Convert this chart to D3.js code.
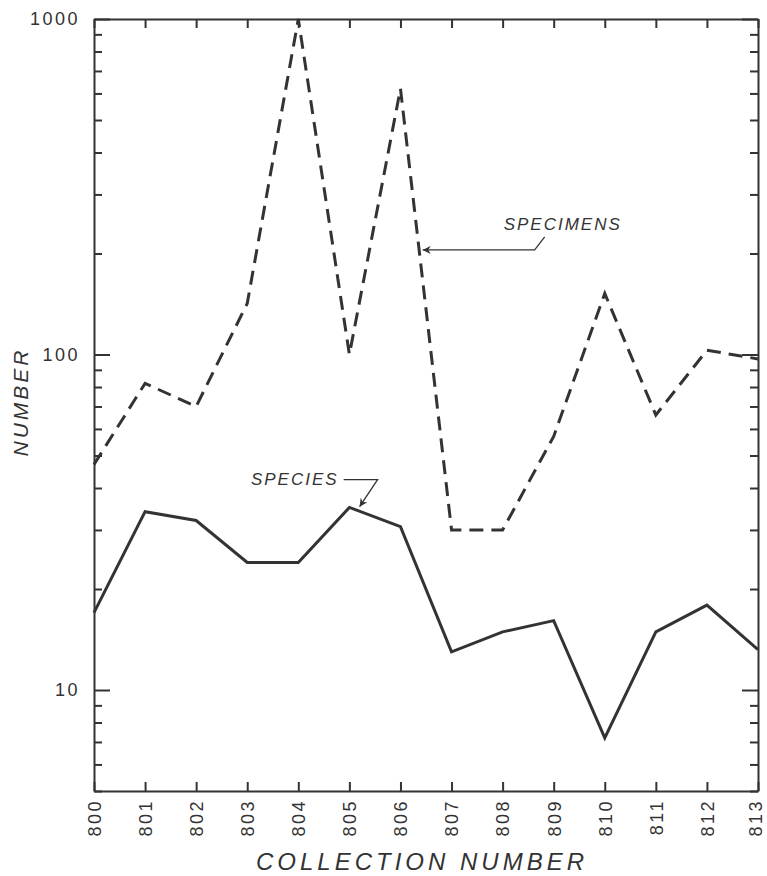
<!DOCTYPE html>
<html>
<head>
<meta charset="utf-8">
<script src="https://cdn.jsdelivr.net/npm/d3@7"></script>
<style>
  body { margin: 0; background: #fff; }
  svg { font-family: "Liberation Sans", Arial, sans-serif; }
  .axis text { font-size: 18px; fill: #333; letter-spacing: 2.5px; }
  .axis path, .axis line { stroke: #333; stroke-width: 2; }
  .title { font-style: italic; fill: #333; }
</style>
</head>
<body>
<div class="chart"></div>
<script>
// collection numbers on the x axis
const collections = [800, 801, 802, 803, 804, 805, 806, 807, 808, 809, 810, 811, 812, 813];
// counts per collection
const specimens = [47, 82, 70, 142, 1000, 100, 620, 30, 30, 57, 152, 66, 103, 97];
const species = [17, 34, 32, 24, 24, 35, 30.7, 13, 14.9, 16.1, 7.2, 14.9, 17.9, 13.2];
// tick values for the log axis
const yTicks = [5, 6, 7, 8, 9, 10, 20, 30, 40, 50, 60, 70, 80, 90, 100, 200, 300, 400, 500, 600, 700, 800, 900, 1000];
const yLabels = [10, 100, 1000];

const width = 767;
const height = 876;
const margin = {top: 19, right: 9, bottom: 85, left: 94};

const svg = d3.select('.chart')
    .append('svg')
    .attr('width', width)
    .attr('height', height);

const x = d3.scaleLinear().domain([800, 813]).range([margin.left, width - margin.right]);
const y = d3.scaleLog().domain([5, 1000]).range([height - margin.bottom, margin.top]);

const isMajor = v => yLabels.includes(v);

// left axis, ticks pointing inward
const left = svg.append('g')
    .attr('class', 'axis')
    .attr('transform', `translate(${margin.left},0)`)
    .call(d3.axisLeft(y).tickValues(yTicks).tickSizeOuter(0).tickPadding(8)
        .tickFormat(d => isMajor(d) ? d : ''));
left.selectAll('.tick line').attr('x2', d => isMajor(d) ? 16 : 8);

// right axis, mirror
const right = svg.append('g')
    .attr('class', 'axis')
    .attr('transform', `translate(${width - margin.right},0)`)
    .call(d3.axisRight(y).tickValues(yTicks).tickSizeOuter(0).tickFormat(''));
right.selectAll('.tick line').attr('x2', d => isMajor(d) ? -16 : -8);

// bottom axis with rotated labels
const bottom = svg.append('g')
    .attr('class', 'axis')
    .attr('transform', `translate(0,${height - margin.bottom})`)
    .call(d3.axisBottom(x).tickValues(collections).tickSizeInner(-9).tickSizeOuter(0)
        .tickFormat(d3.format('d')));
bottom.selectAll('.tick text')
    .attr('y', 0)
    .attr('x', -8)
    .attr('dy', '0.35em')
    .attr('transform', 'rotate(-90)')
    .style('text-anchor', 'end');
// last label sits against the page edge, nudge it in a touch
bottom.selectAll('.tick text').filter(d => d === 813).attr('dy', '0.2em');

// top axis, ticks only
svg.append('g')
    .attr('class', 'axis')
    .attr('transform', `translate(0,${margin.top})`)
    .call(d3.axisTop(x).tickValues(collections).tickSizeInner(-9).tickSizeOuter(0).tickFormat(''));

const line = d3.line()
    .x((d, i) => x(collections[i]))
    .y(d => y(d));

svg.append('path')
    .datum(specimens)
    .attr('fill', 'none')
    .attr('stroke', '#333')
    .attr('stroke-width', 3)
    .attr('stroke-dasharray', '14,8')
    .attr('d', line);

svg.append('path')
    .datum(species)
    .attr('fill', 'none')
    .attr('stroke', '#333')
    .attr('stroke-width', 3)
    .attr('d', line);

// arrow marker for the labels
svg.append('defs').append('marker')
    .attr('id', 'arrow')
    .attr('viewBox', '0 0 10 10')
    .attr('refX', 0)
    .attr('refY', 5)
    .attr('markerWidth', 13)
    .attr('markerHeight', 8)
    .attr('markerUnits', 'userSpaceOnUse')
    .attr('orient', 'auto')
    .append('path')
    .attr('d', 'M0,5 L10,0 L7,5 L10,10 Z')
    .attr('fill', '#333');

// labels: anchor point in data units, leader bends as offsets
const notes = [
    {text: 'SPECIMENS', at: [806.435, 205], leader: [[0, 0], [112, 0], [122, -13]], tx: 81, ty: -20, anchor: 'start'},
    {text: 'SPECIES', at: [805.2, 35.2], leader: [[0, 0], [18, -27], [-16, -27]], tx: -21, ty: -22, anchor: 'end'}
];

notes.forEach(n => {
    const px = x(n.at[0]), py = y(n.at[1]);
    svg.append('path')
        .attr('d', d3.line()(n.leader.map(p => [px + p[0], py + p[1]])))
        .attr('fill', 'none')
        .attr('stroke', '#333')
        .attr('stroke-width', 1.3)
        .attr('marker-start', 'url(#arrow)');
    svg.append('text')
        .attr('class', 'title')
        .attr('x', px + n.tx)
        .attr('y', py + n.ty)
        .attr('text-anchor', n.anchor)
        .style('font-size', '17px')
        .style('letter-spacing', '2px')
        .text(n.text);
});

// axis titles
svg.append('text')
    .attr('class', 'title')
    .attr('x', 422)
    .attr('y', 870)
    .attr('text-anchor', 'middle')
    .style('font-size', '24px')
    .style('letter-spacing', '4px')
    .text('COLLECTION NUMBER');

svg.append('text')
    .attr('class', 'title')
    .attr('transform', 'translate(28,402) rotate(-90)')
    .attr('text-anchor', 'middle')
    .style('font-size', '21px')
    .style('letter-spacing', '3px')
    .text('NUMBER');
</script>
</body>
</html>
